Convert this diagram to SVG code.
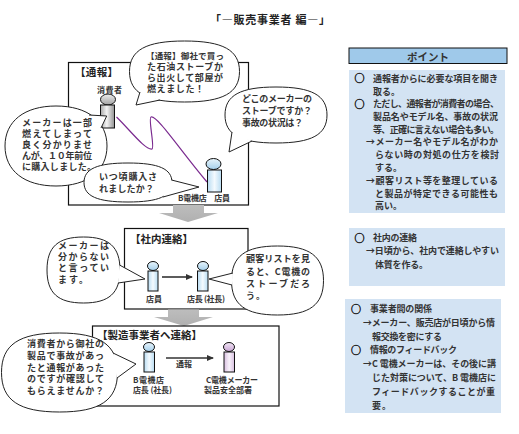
<svg xmlns="http://www.w3.org/2000/svg" width="519" height="434" viewBox="0 0 519 434">
<style>
text{font-family:"Noto Sans CJK JP","Noto Sans CJK SC",sans-serif;font-weight:700;fill:#333;font-size:9px}
.h{font-size:10.5px;fill:#222}
.s{font-size:8px}
.c{font-size:10px;fill:#222;stroke:#222;stroke-width:.5}
.box{fill:#fff;stroke:#111;stroke-width:1.2}
.bub{fill:#fff;stroke:#222;stroke-width:1}
.panel{fill:#d3e3f3}
.flow{fill:url(#ga)}
.line{fill:none;stroke:#333;stroke-width:1.6}
.ps{stroke:#111;stroke-width:1}
</style>
<defs>
<linearGradient id="ga" x1="0" y1="0" x2="0" y2="1"><stop offset="0" stop-color="#bdbdbd"/><stop offset="1" stop-color="#b0b0b0"/></linearGradient>
<linearGradient id="gk"><stop offset="0" stop-color="#a8a8a8"/><stop offset=".45" stop-color="#f4f4f4"/><stop offset="1" stop-color="#909090"/></linearGradient>
<linearGradient id="gkh" x1="0" y1="0" x2="0" y2="1"><stop offset="0" stop-color="#eee"/><stop offset="1" stop-color="#a0a0a0"/></linearGradient>
<linearGradient id="gb"><stop offset="0" stop-color="#b8dcf2"/><stop offset=".5" stop-color="#f4fafe"/><stop offset="1" stop-color="#b8dcf2"/></linearGradient>
<linearGradient id="gbh" x1="0" y1="0" x2="0" y2="1"><stop offset="0" stop-color="#e8f4fb"/><stop offset="1" stop-color="#a5d0ec"/></linearGradient>
<linearGradient id="gp"><stop offset="0" stop-color="#d8bfe0"/><stop offset=".5" stop-color="#f8f2fa"/><stop offset="1" stop-color="#d8bfe0"/></linearGradient>
<linearGradient id="gph" x1="0" y1="0" x2="0" y2="1"><stop offset="0" stop-color="#f2e6f5"/><stop offset="1" stop-color="#c8a5d4"/></linearGradient>
<marker id="ah" markerWidth="7" markerHeight="6" refX="6" refY="3" orient="auto" markerUnits="userSpaceOnUse"><path d="M0 0L7 3L0 6z" fill="#333"/></marker>
</defs>
<rect width="519" height="434" fill="#fff"/>
<text id="title" class="h" x="210" y="24" textLength="120" style="font-size:11px">「―販売事業者 編―」</text>

<g id="box-report"><rect class="box" x="68.500" y="62.500" width="180" height="142.500"/><text class="h" x="75" y="75.500" textLength="43">【通報】</text></g>
<g id="box-internal"><rect class="box" x="124.500" y="228.500" width="123.500" height="80.500"/><text class="h" x="130" y="243" textLength="63">【社内連絡】</text></g>
<g id="flow-arrows">
<polygon class="flow" points="173,205 204,205 204,213 218,213 188,222 159,213 173,213"/>
<polygon class="flow" points="168,309.500 199,309.500 199,317 213,317 184,326 154,317 168,317"/>
</g>
<g id="box-maker"><rect class="box" x="92.500" y="326" width="186.500" height="80"/><text class="h" x="97" y="339" textLength="105">【製造事業者へ連絡】</text></g>

<g id="connectors">
<path d="M116.500,117C130,130 145,150 152,149C155,148 148,118 151,117C157,115 180,150 207,182" fill="none" stroke="#7a2a8f" stroke-width="1.200"/>
<line class="line" x1="162" y1="277" x2="192" y2="277" marker-end="url(#ah)"/>
<line class="line" x1="166" y1="358" x2="213" y2="358" marker-end="url(#ah)"/>
</g>

<g id="person-consumer"><ellipse class="ps" cx="108" cy="99.500" rx="7.500" ry="5.500" fill="url(#gkh)"/><rect class="ps" x="100.500" y="105" width="14" height="23" fill="url(#gk)"/><text class="s" x="97" y="93" textLength="25">消費者</text></g>
<g id="person-clerk"><ellipse class="ps" cx="213.500" cy="164" rx="7.500" ry="5.500" fill="url(#gbh)"/><rect class="ps" x="207.500" y="170" width="14" height="22" fill="url(#gb)"/><text class="s" x="178" y="201" textLength="52">B電機店　店員</text></g>
<g id="person-clerk2"><ellipse class="ps" cx="153" cy="266" rx="5.500" ry="4.500" fill="url(#gbh)"/><rect class="ps" x="148" y="271" width="10" height="20" fill="url(#gb)"/><text class="s" x="146" y="302" textLength="16">店員</text></g>
<g id="person-manager"><ellipse class="ps" cx="203" cy="266" rx="5.500" ry="4.500" fill="url(#gbh)"/><rect class="ps" x="197.500" y="271" width="10.500" height="20" fill="url(#gb)"/><text class="s" x="187" y="302" textLength="38">店長 (社長)</text></g>
<g id="person-b"><ellipse class="ps" cx="149" cy="347" rx="5.500" ry="4.500" fill="url(#gbh)"/><rect class="ps" x="144" y="352" width="10.500" height="20" fill="url(#gb)"/><text class="s"><tspan x="133" y="383" textLength="31">B電機店</tspan><tspan x="133" y="393" textLength="39">店長 (社長)</tspan></text></g>
<g id="person-c"><ellipse class="ps" cx="229" cy="347" rx="5.500" ry="4.500" fill="url(#gph)"/><rect class="ps" x="224" y="352" width="10.500" height="20" fill="url(#gp)"/><text class="s"><tspan x="206" y="383" textLength="52">C電機メーカー</tspan><tspan x="204" y="393" textLength="48">製品安全部署</tspan></text></g>
<g id="label-notify"><text class="s" x="176" y="367" textLength="16">通報</text></g>

<g id="bubble-top"><path class="bub" d="M129.500,71.500C129.500,50.150 146,41 184.500,41C223,41 239.500,50.150 239.500,71.500C239.500,92.850 223,102 184.500,102C146,102 129.500,92.850 129.500,71.500Z"/><path class="bub" d="M140,92L136,105L160,100"/>
<text><tspan x="146" y="59" textLength="78" style="font-size:8.5px">【通報】御社で買っ</tspan><tspan x="147" y="70" textLength="76">た石油ストーブか</tspan><tspan x="147" y="81" textLength="76">ら出火して部屋が</tspan><tspan x="147" y="92" textLength="57">燃えました！</tspan></text></g>
<g id="bubble-right"><path class="bub" d="M225,115C225,95.400 240.300,87 276,87C311.700,87 327,95.400 327,115C327,134.600 311.700,143 276,143C240.300,143 225,134.600 225,115Z"/><path class="bub" d="M232,132L229,152L252,141"/>
<text><tspan x="242" y="102" textLength="70">どこのメーカーの</tspan><tspan x="242" y="114" textLength="70">ストーブですか？</tspan><tspan x="242" y="126" textLength="61">事故の状況は？</tspan></text></g>
<g id="bubble-left"><path class="bub" d="M5,146C5,121.200 24.400,106 56,106C87.600,106 107,121.200 107,146C107,170.800 87.600,186 56,186C24.400,186 5,170.800 5,146Z"/><path class="bub" d="M89,115L106.700,116L101,128"/>
<text><tspan x="22" y="126" textLength="70">メーカーは一部</tspan><tspan x="22" y="137" textLength="70">燃えてしまって</tspan><tspan x="22" y="148" textLength="70">良く分かりませ</tspan><tspan x="22" y="159" textLength="70">んが、１０年前位</tspan><tspan x="22" y="170" textLength="74">に購入しました。</tspan></text></g>
<g id="bubble-small"><path class="bub" d="M84,182.500C84,168.850 97.200,163 128,163C158.800,163 172,168.850 172,182.500C172,196.150 158.800,202 128,202C97.200,202 84,196.150 84,182.500Z"/><path class="bub" d="M171.500,180L199,187L163,197"/>
<text><tspan x="99" y="180" textLength="58">いつ頃購入さ</tspan><tspan x="99" y="192" textLength="55">れましたか？</tspan></text></g>
<g id="bubble-internal-l"><path class="bub" d="M47,270C47,246.900 57.950,237 83.500,237C109.050,237 120,246.900 120,270C120,293.100 109.050,303 83.500,303C57.950,303 47,293.100 47,270Z"/><path class="bub" d="M119.500,265L145,279L118,283"/>
<text><tspan x="58" y="249" textLength="51">メーカーは</tspan><tspan x="58" y="260" textLength="51">分からない</tspan><tspan x="58" y="271" textLength="51">と言ってい</tspan><tspan x="58" y="283" textLength="30">ます。</tspan></text></g>
<g id="bubble-internal-r"><path class="bub" d="M231.500,280.500C231.500,256.350 245.300,246 277.500,246C309.700,246 323.500,256.350 323.500,280.500C323.500,304.650 309.700,315 277.500,315C245.300,315 231.500,304.650 231.500,280.500Z"/><path class="bub" d="M233,273L209,279L232,285"/>
<text><tspan x="246" y="262" textLength="64">顧客リストを見</tspan><tspan x="246" y="275" textLength="64">ると、C電機の</tspan><tspan x="246" y="287" textLength="64">ストーブだろ</tspan><tspan x="246" y="299" textLength="19">う。</tspan></text></g>
<g id="bubble-maker"><path class="bub" d="M1.500,372.500C1.500,344.850 18.900,333 59.500,333C100.100,333 117.500,344.850 117.500,372.500C117.500,400.150 100.100,412 59.500,412C18.900,412 1.500,400.150 1.500,372.500Z"/><path class="bub" d="M113,353L136,364L117,378"/>
<text><tspan x="27" y="347" textLength="77">消費者から御社の</tspan><tspan x="27" y="359" textLength="77">製品で事故があっ</tspan><tspan x="27" y="371" textLength="77">たと通報があった</tspan><tspan x="27" y="382" textLength="77">のですが確認して</tspan><tspan x="27" y="394" textLength="77">もらえませんか？</tspan></text></g>

<g id="point-title"><rect x="349" y="48" width="158" height="15.500" fill="#9fc9ea" stroke="#111" stroke-width="1"/><text x="407" y="60.500" textLength="42" style="font-size:10.5px">ポイント</text></g>
<g id="panel-1"><rect class="panel" x="349" y="70" width="156" height="143"/>
<text class="c"><tspan x="354.500" y="82">○</tspan><tspan x="354.500" y="107.500">○</tspan></text>
<text><tspan x="373" y="81.500" textLength="125">通報者からに必要な項目を聞き</tspan>
<tspan x="373" y="94.500" textLength="27">取る。</tspan>
<tspan x="373" y="107" textLength="126">ただし、通報者が消費者の場合、</tspan>
<tspan x="373" y="120" textLength="125">製品名やモデル名、事故の状況</tspan>
<tspan x="373" y="133" textLength="126">等、正確に言えない場合も多い。</tspan>
<tspan x="366" y="145" textLength="132">→メーカー名やモデル名がわか</tspan>
<tspan x="375" y="158" textLength="124">らない時の対処の仕方を検討</tspan>
<tspan x="375" y="171" textLength="27">する。</tspan>
<tspan x="366" y="184" textLength="132">→顧客リスト等を整理している</tspan>
<tspan x="375" y="197" textLength="123">と製品が特定できる可能性も</tspan>
<tspan x="375" y="209" textLength="27">高い。</tspan></text></g>
<g id="panel-2"><rect class="panel" x="349" y="228" width="156" height="58"/>
<text class="c" x="354.500" y="241.500">○</text>
<text><tspan x="373" y="241" textLength="44">社内の連絡</tspan>
<tspan x="366" y="254" textLength="133">→日頃から、社内で連絡しやすい</tspan>
<tspan x="375" y="268" textLength="53">体質を作る。</tspan></text></g>
<g id="panel-3"><rect class="panel" x="345" y="299" width="156" height="114"/>
<text class="c"><tspan x="351" y="312.500">○</tspan><tspan x="351" y="353.500">○</tspan></text>
<text><tspan x="370" y="312" textLength="62">事業者間の関係</tspan>
<tspan x="363" y="326" textLength="132">→メーカー、販売店が日頃から情</tspan>
<tspan x="372" y="340" textLength="70">報交換を密にする</tspan>
<tspan x="370" y="353" textLength="87">情報のフィードバック</tspan>
<tspan x="363" y="367" textLength="133">→C 電機メーカーは、その後に講</tspan>
<tspan x="372" y="381" textLength="124">じた対策について、B 電機店に</tspan>
<tspan x="372" y="395" textLength="123">フィードバックすることが重</tspan>
<tspan x="372" y="409" textLength="19">要。</tspan></text></g>
</svg>
